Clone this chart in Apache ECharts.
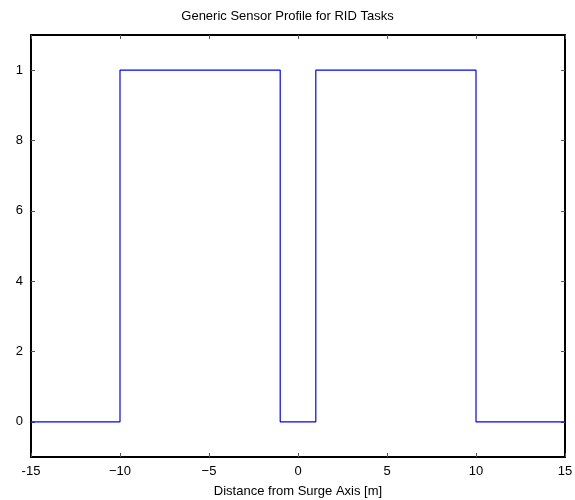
<!DOCTYPE html>
<html><head><meta charset="utf-8">
<script src="https://cdn.jsdelivr.net/npm/echarts@6/dist/echarts.min.js"></script>
<style>html,body{margin:0;padding:0;background:#fff}#c{width:575px;height:500px}</style>
</head><body><div id="c"></div>
<script>
const profileX = [-15, -10, -10, -1, -1, 1, 1, 10, 10, 15];
const profileY = [0, 0, 1, 1, 0, 0, 1, 1, 0, 0];
const xTickValues = [-15, -10, -5, 0, 5, 10, 15];
const xTickLabels = ['-15', '\u221210', '\u22125', '0', '5', '10', '15'];
const yTickValues = [0, 0.2, 0.4, 0.6, 0.8, 1];
const yTickLabels = ['0', '2', '4', '6', '8', '1'];

const chart = echarts.init(document.getElementById('c'));
const font = 'Liberation Sans, Arial, sans-serif';
function xFmt(v){ const i = xTickValues.findIndex(t => Math.abs(t - v) < 1e-6); return i >= 0 ? xTickLabels[i] : ''; }
function yFmt(v){ const i = yTickValues.findIndex(t => Math.abs(t - v) < 1e-6); return i >= 0 ? yTickLabels[i] : ''; }
const axisLine = {show: true, onZero: false, lineStyle: {color: '#000', width: 2}};
const tick = {show: true, inside: true, length: 4, lineStyle: {color: '#555', width: 1}};
chart.setOption({
  animation: false,
  backgroundColor: '#fff',
  title: {text: 'Generic Sensor Profile for RID Tasks', left: 'center', top: 5,
    textStyle: {fontFamily: font, fontSize: 13, fontWeight: 'normal', color: '#000'}},
  grid: {left: 31, right: 10, top: 35, bottom: 43, outerBoundsMode: 'none', containLabel: false},
  xAxis: [{
    type: 'value', min: -15, max: 15, interval: 5, position: 'bottom',
    axisLine: axisLine, axisTick: tick, splitLine: {show: false},
    axisLabel: {formatter: xFmt, fontFamily: font, fontSize: 13, color: '#000', margin: 8},
    name: 'Distance from Surge Axis [m]', nameLocation: 'middle', nameGap: 28,
    nameTextStyle: {fontFamily: font, fontSize: 13, color: '#000'}
  }, {
    type: 'value', min: -15, max: 15, interval: 5, position: 'top',
    axisLine: axisLine, axisTick: tick, splitLine: {show: false}, axisLabel: {show: false}
  }],
  yAxis: [{
    type: 'value', min: -0.1, max: 1.1, position: 'left',
    axisLine: axisLine, splitLine: {show: false},
    axisLabel: {formatter: yFmt, fontFamily: font, fontSize: 13, color: '#000', margin: 8,
      customValues: yTickValues},
    axisTick: Object.assign({}, tick, {customValues: yTickValues})
  }, {
    type: 'value', min: -0.1, max: 1.1, position: 'right',
    axisLine: axisLine, splitLine: {show: false}, axisLabel: {show: false},
    axisTick: Object.assign({}, tick, {customValues: yTickValues})
  }],
  series: [{
    type: 'line', xAxisIndex: 0, yAxisIndex: 0,
    data: profileX.map((x, i) => [x, profileY[i]]),
    showSymbol: false, symbol: 'none',
    lineStyle: {color: '#0000ff', width: 1.2}
  }]
});
</script></body></html>
